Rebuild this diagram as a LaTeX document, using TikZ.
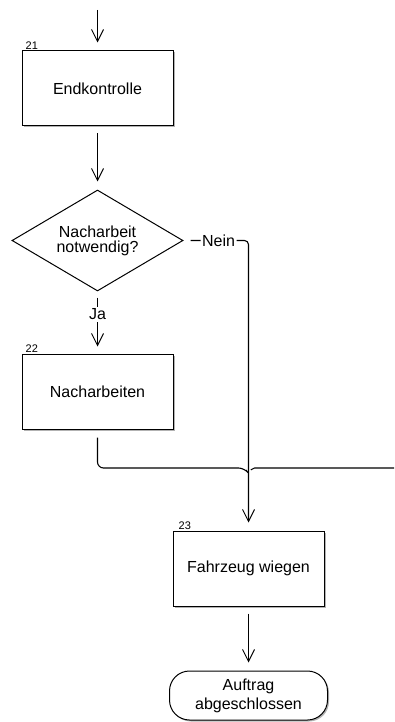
\documentclass[tikz,border=0pt]{standalone}
\usepackage{fontspec}
\setmainfont{Liberation Sans}
\usetikzlibrary{shapes.geometric, arrows.meta, positioning, shadows}

\begin{document}
\begin{tikzpicture}[
				x=1pt, y=-1pt,
				box/.style={rectangle, draw=black, fill=white, line width=1pt, minimum width=151pt, minimum height=75pt, align=center, font=\fontsize{16}{18}\selectfont, drop shadow={shadow xshift=1.5pt, shadow yshift=-1.5pt, fill=black, opacity=0.3}},
				decision/.style={diamond, draw=black, fill=white, line width=1pt, aspect=1.7, inner sep=0pt, minimum width=171pt, minimum height=101pt, align=center, font=\fontsize{16}{15}\selectfont},
				terminal/.style={rectangle, rounded corners=20pt, draw=black, fill=white, line width=1pt, minimum width=158pt, minimum height=49pt, align=center, font=\fontsize{16}{19}\selectfont, drop shadow={shadow xshift=1.5pt, shadow yshift=-1.5pt, fill=black, opacity=0.3}},
				num/.style={anchor=south west, xshift=3pt, inner sep=1pt, font=\fontsize{11}{12}\selectfont},
				lbl/.style={fill=white, inner sep=1.5pt, font=\fontsize{16}{18}\selectfont},
				arrow/.style={-{Straight Barb[length=12pt, width=12pt, line width=1pt]}, line width=1.1pt, draw=black},
				line/.style={line width=1.1pt, draw=black}
				]
				\useasboundingbox (0,0) rectangle (394,722);
				
				\coordinate (in) at (97.5,10);
				\node[box, label={[num]north west:21}] (endk) at (97.5,88.5) {Endkontrolle};
				\node[decision] (check) at (97.5,240.5) {Nacharbeit\\notwendig?};
				\node[box, label={[num]north west:22}] (nach) at (97.5,391.5) {Nacharbeiten};
				\node[box, label={[num, xshift=2pt]north west:23}] (wiegen) at (248.5,568.5) {Fahrzeug wiegen};
				\node[terminal] (done) at (248.5,695.5) {Auftrag\\abgeschlossen};
				
				% rework line runs off to the right, hopping over the Nein branch
				\coordinate (hopL) at (244.5,468);
				\coordinate (hopR) at (252.5,468);
				\coordinate (out) at (394,468);
				
				\draw[arrow, shorten >=8pt] (in) -- (endk);
				\draw[arrow, shorten <=7pt, shorten >=8pt] (endk) -- (check);
				\draw[arrow, shorten <=6pt, shorten >=7pt] (check) -- node[lbl, pos=0.37] {Ja} (nach);
				\draw[arrow, rounded corners=4pt, shorten <=7pt, shorten >=8pt] (check.east) -| node[lbl, pos=0.27] {Nein} (wiegen.north);
				\draw[line, rounded corners=6pt, shorten <=8pt] (nach.south) |- (hopL) -- ++(1.5,2);
				\draw[line, rounded corners=2pt] (hopR) ++(-1.5,2) -- (hopR) -- (out);
				\draw[arrow, shorten <=7pt, shorten >=8pt] (wiegen) -- (done);
			\end{tikzpicture}
\end{document}
